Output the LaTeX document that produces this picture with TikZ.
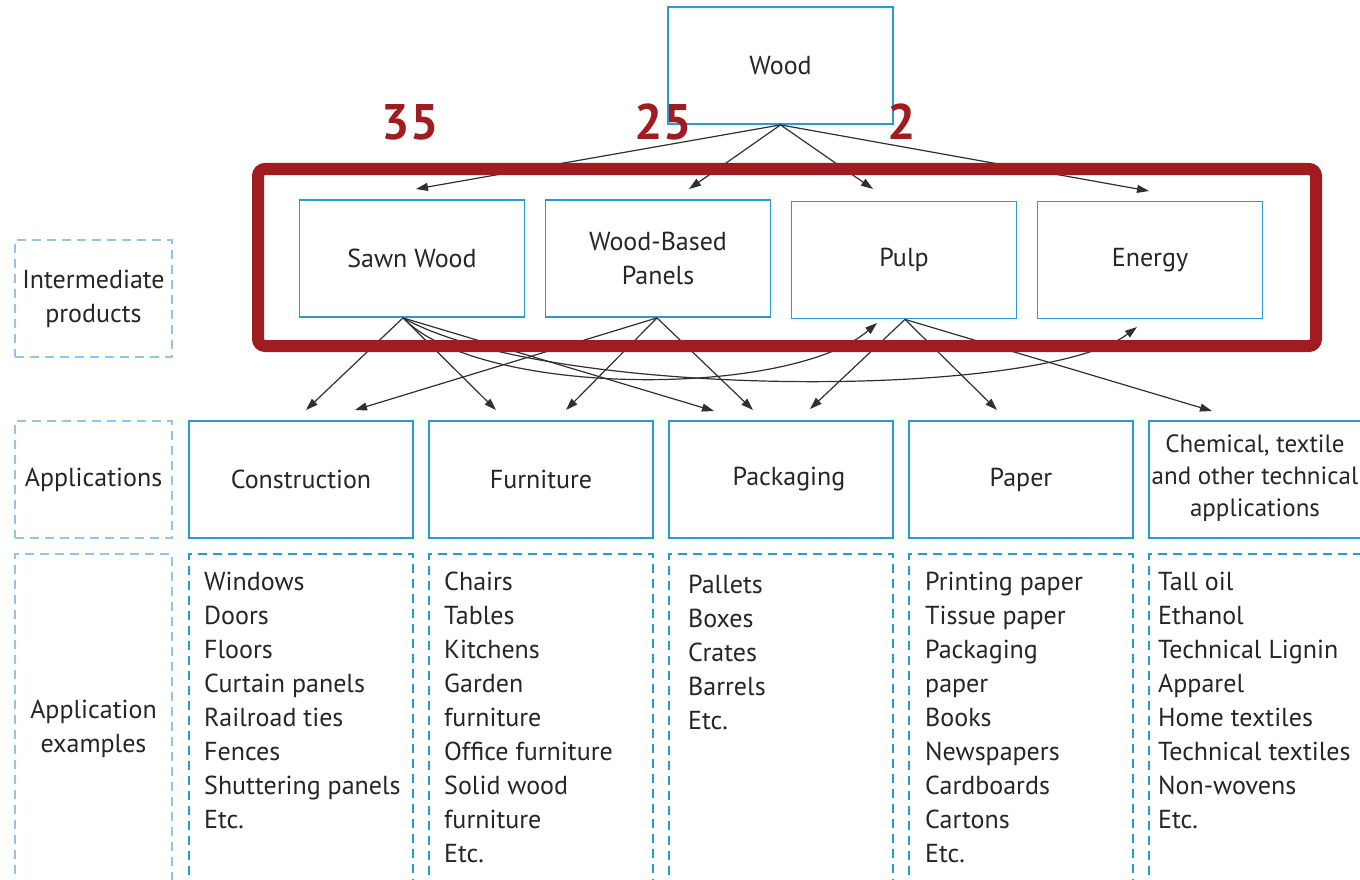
\documentclass[tikz,border=0pt]{standalone}
\usepackage{fontspec}
\setmainfont{PT Sans}
\usetikzlibrary{arrows.meta,calc}
\definecolor{boxblue}{HTML}{2A9AD6}
\definecolor{lightblue}{HTML}{94C4EA}
\definecolor{darkred}{HTML}{A11C21}
\definecolor{arrowgray}{HTML}{303030}
\definecolor{textgray}{HTML}{262626}
\newcommand{\fs}{\fontsize{26}{34}\selectfont}
\begin{document}
\begin{tikzpicture}[x=1pt,y=-1pt,
  solidbox/.style={draw=boxblue,line width=1.8pt,minimum width=225pt,minimum height=117pt,inner sep=0pt,align=center,font=\fs,text=textgray},
  labelbox/.style={draw=lightblue,line width=1.8pt,dash pattern=on 9pt off 6pt,minimum width=157pt,minimum height=117pt,inner sep=0pt,align=center,font=\fs,text=textgray},
  examplebox/.style={draw=boxblue,line width=2.2pt,dash pattern=on 9pt off 6pt,minimum width=224pt,minimum height=350pt,inner sep=0pt},
  listtext/.style={anchor=north west,inner sep=0pt,align=left,font=\fs,text=textgray},
  flow/.style={draw=arrowgray,line width=1.2pt,-{Triangle[length=12pt,width=8pt]}},
  bignum/.style={font=\fontsize{50}{50}\selectfont\bfseries,text=darkred,inner sep=0pt}
]
\clip (0,0) rectangle (1360,880);
\fill[white] (0,0) rectangle (1360,880);

% left labels
\node[labelbox] (lint) at (93.5,298.5) {Intermediate\\products};
\node[labelbox] (lapp) at (93.5,479.5) {Applications};
\node[labelbox,minimum height=350pt] (lex) at (93.5,729) {Application\\examples};

% top
\node[solidbox] (wood) at (780.5,65.5) {Wood};

% intermediate
\node[solidbox] (sawn) at (412,258.5) {Sawn Wood};
\node[solidbox] (wbp) at (658,258.5) {Wood-Based\\Panels};
\node[solidbox] (pulp) at (904,260) {Pulp};
\node[solidbox] (energy) at (1150,260) {Energy};

% applications
\node[solidbox,minimum width=224pt] (cons) at (301,479.5) {Construction};
\node[solidbox,minimum width=224pt] (furn) at (541,479.5) {Furniture};
\node[solidbox,minimum width=224pt] (pack) at (781,479.5) {\hspace*{16pt}Packaging};
\node[solidbox,minimum width=224pt] (paper) at (1021,479.5) {Paper};
\node[solidbox,minimum width=224pt] (chem) at (1261,479.5) {};
\node[align=center,inner sep=0pt,font=\fontsize{25}{32}\selectfont,text=textgray] (chemtext) at (1255,478) {Chemical, textile\\and other technical\\applications};

% example boxes
\node[examplebox] (excons) at (301,729) {};
\node[examplebox] (exfurn) at (541,729) {};
\node[examplebox] (expack) at (781,729) {};
\node[examplebox] (expaper) at (1021,729) {};
\node[examplebox] (exchem) at (1261,729) {};

\node[listtext] (lcons) at (204,572) {Windows\\Doors\\Floors\\Curtain panels\\Railroad ties\\Fences\\Shuttering panels\\Etc.};
\node[listtext] (lfurn) at (444,572) {Chairs\\Tables\\Kitchens\\Garden\\furniture\\Office furniture\\Solid wood\\furniture\\Etc.};
\node[listtext] (lpack) at (688,575) {Pallets\\Boxes\\Crates\\Barrels\\Etc.};
\node[listtext] (lpaper) at (925,572) {Printing paper\\Tissue paper\\Packaging\\paper\\Books\\Newspapers\\Cardboards\\Cartons\\Etc.};
\node[listtext] (lchem) at (1158,572) {Tall oil\\Ethanol\\Technical Lignin\\Apparel\\Home textiles\\Technical textiles\\Non-wovens\\Etc.};

% connector end points
\coordinate (wout) at (wood.south);
\coordinate (swout) at ($(sawn.south)+(-9,0)$);
\coordinate (wbout) at ($(wbp.south)+(-1,0)$);
\coordinate (puout) at ($(pulp.south)+(1,0)$);
\coordinate (tsawn) at (416,189);
\coordinate (twbp) at (689,189);
\coordinate (tpulp) at (873,189);
\coordinate (tenergy) at (1149,191);
\coordinate (tcons1) at (306,410);
\coordinate (tcons2) at (355,410);
\coordinate (tfurn1) at (496,410);
\coordinate (tfurn2) at (566,410);
\coordinate (tpack1) at (714,411);
\coordinate (tpack2) at (753,410);
\coordinate (tpack3) at (810,409);
\coordinate (tpaper) at (997,410);
\coordinate (tchem) at (1212,411);
\coordinate (tpulpb) at (877,323);
\coordinate (tenergyb) at (1137,327);

\draw[flow] (wout) -- (tsawn);
\draw[flow] (wout) -- (twbp);
\draw[flow] (wout) -- (tpulp);
\draw[flow] (wout) -- (tenergy);

\draw[flow] (swout) -- (tcons1);
\draw[flow] (swout) -- (tfurn1);
\draw[flow] (swout) -- (tpack1);
\draw[flow] (wbout) -- (tcons2);
\draw[flow] (wbout) -- (tfurn2);
\draw[flow] (wbout) -- (tpack2);
\draw[flow] (puout) -- (tpack3);
\draw[flow] (puout) -- (tpaper);
\draw[flow] (puout) -- (tchem);
\draw[flow] (swout) .. controls (480,398) and (790,398) .. (tpulpb);
\draw[flow] (swout) .. controls (550,400) and (1040,400) .. (tenergyb);

% red highlight
\node[draw=darkred,line width=12pt,rounded corners=7pt,minimum width=1058pt,minimum height=177pt,inner sep=0pt] (highlight) at (787,257.5) {};

% numbers
\node[bignum] (n35) at (410,122) {35};
\node[bignum] (n25) at (663,122) {25};
\node[bignum] (n2) at (902,122) {2};
\end{tikzpicture}
\end{document}
